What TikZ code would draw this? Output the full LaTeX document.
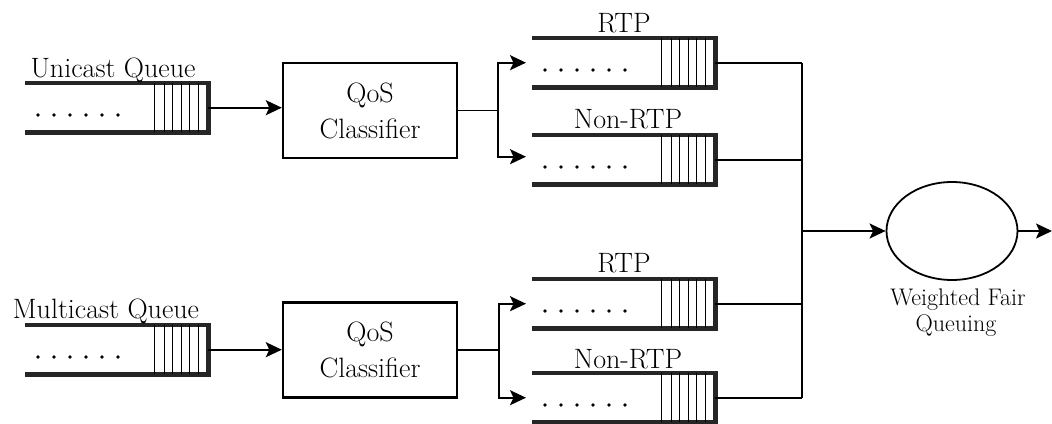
\documentclass[tikz,border=0pt]{standalone}
\usetikzlibrary{arrows.meta,shapes.geometric,calc}
\tikzset{
  qline/.style={line width=4.5pt, line join=miter, color=black!85},
  cellline/.style={line width=1.4pt},
  conn/.style={line width=1.8pt},
  arr/.style={conn, -{Stealth[length=16pt,width=15pt,inset=3.5pt]}},
  qarea/.style={minimum width=183pt, minimum height=49pt, inner sep=0pt, anchor=north west},
  bigtext/.style={font=\fontsize{28}{34}\selectfont, inner sep=0pt},
  smalltext/.style={font=\fontsize{24}{27}\selectfont, inner sep=0pt},
  classbox/.style={draw, line width=2.4pt, minimum width=174pt, minimum height=95pt, inner sep=0pt, align=center, font=\fontsize{28}{36}\selectfont},
}
\newcommand\drawqueue[1]{%
  \draw[qline] (#1.north west) -- (#1.north east) -- (#1.south east) -- (#1.south west);
  \foreach \d in {54,44,36,27,19,10}
    \draw[cellline] ([xshift=-\d pt]#1.north east) -- ([xshift=-\d pt]#1.south east);
  \foreach \k in {0,...,5}
    \fill ([xshift={(13+16*\k)*1pt}, yshift=-32pt]#1.north west) circle (1.9pt);
}
\begin{document}
\begin{tikzpicture}[x=1pt,y=-1pt]
\useasboundingbox (0,0) rectangle (1052,423);
% queues
\node[qarea] (uq)  at (25,83) {};
\node[qarea] (mq)  at (25,325) {};
\node[qarea] (rtp1) at (532,38) {};
\node[qarea] (nrtp1) at (532,135) {};
\node[qarea] (rtp2) at (532,279) {};
\node[qarea] (nrtp2) at (532,373) {};
\drawqueue{uq}
\drawqueue{mq}
\drawqueue{rtp1}
\drawqueue{nrtp1}
\drawqueue{rtp2}
\drawqueue{nrtp2}
% labels
\node[bigtext, anchor=base] (luq) at (113,77) {Unicast Queue};
\node[bigtext, anchor=base] (lmq) at (106,318) {Multicast Queue};
\node[bigtext, anchor=base] (lr1) at (624,32) {RTP};
\node[bigtext, anchor=base] (ln1) at (628,128) {Non-RTP};
\node[bigtext, anchor=base] (lr2) at (624,272) {RTP};
\node[bigtext, anchor=base] (ln2) at (628,368) {Non-RTP};
% classifiers
\node[classbox] (qos1) at (370,110.5) {QoS\\Classifier};
\node[classbox] (qos2) at (370,350) {QoS\\Classifier};
% WFQ
\node[draw, ellipse, line width=1.8pt, minimum width=131pt, minimum height=98pt, inner sep=0pt] (wfq) at (952,231) {};
\node[smalltext, anchor=base] (lw1) at (958,305) {Weighted Fair};
\node[smalltext, anchor=base] (lw2) at (956,331) {Queuing};
% coordinates
\coordinate (b1) at (498,110.5);
\coordinate (b2) at (499,350);
\coordinate (bus) at (802,231);
\coordinate (out) at (1052,231);
% connectors
\draw[arr] (uq.east) -- (uq.east -| qos1.west);
\draw[arr] (mq.east) -- (mq.east -| qos2.west);
\draw[conn] (qos1.east |- b1) -- (b1);
\draw[conn] (qos2.east |- b2) -- (b2);
\draw[arr, shorten >=6pt] (b1) |- (rtp1.west);
\draw[arr, shorten >=6pt] (b1) |- ([yshift=3pt]nrtp1.west);
\draw[arr, shorten >=6pt] (b2) |- (rtp2.west);
\draw[arr, shorten >=6pt] (b2) |- (nrtp2.west);
\draw[conn] (rtp1.east) -- (rtp1.east -| bus);
\draw[conn] (nrtp1.east) -- (nrtp1.east -| bus);
\draw[conn] (rtp2.east) -- (rtp2.east -| bus);
\draw[conn] (nrtp2.east) -- (nrtp2.east -| bus);
\draw[conn] (rtp1.east -| bus) -- (nrtp2.east -| bus);
\draw[arr] (bus) -- (wfq.west);
\draw[arr] (wfq.east) -- (out);
\end{tikzpicture}
\end{document}
